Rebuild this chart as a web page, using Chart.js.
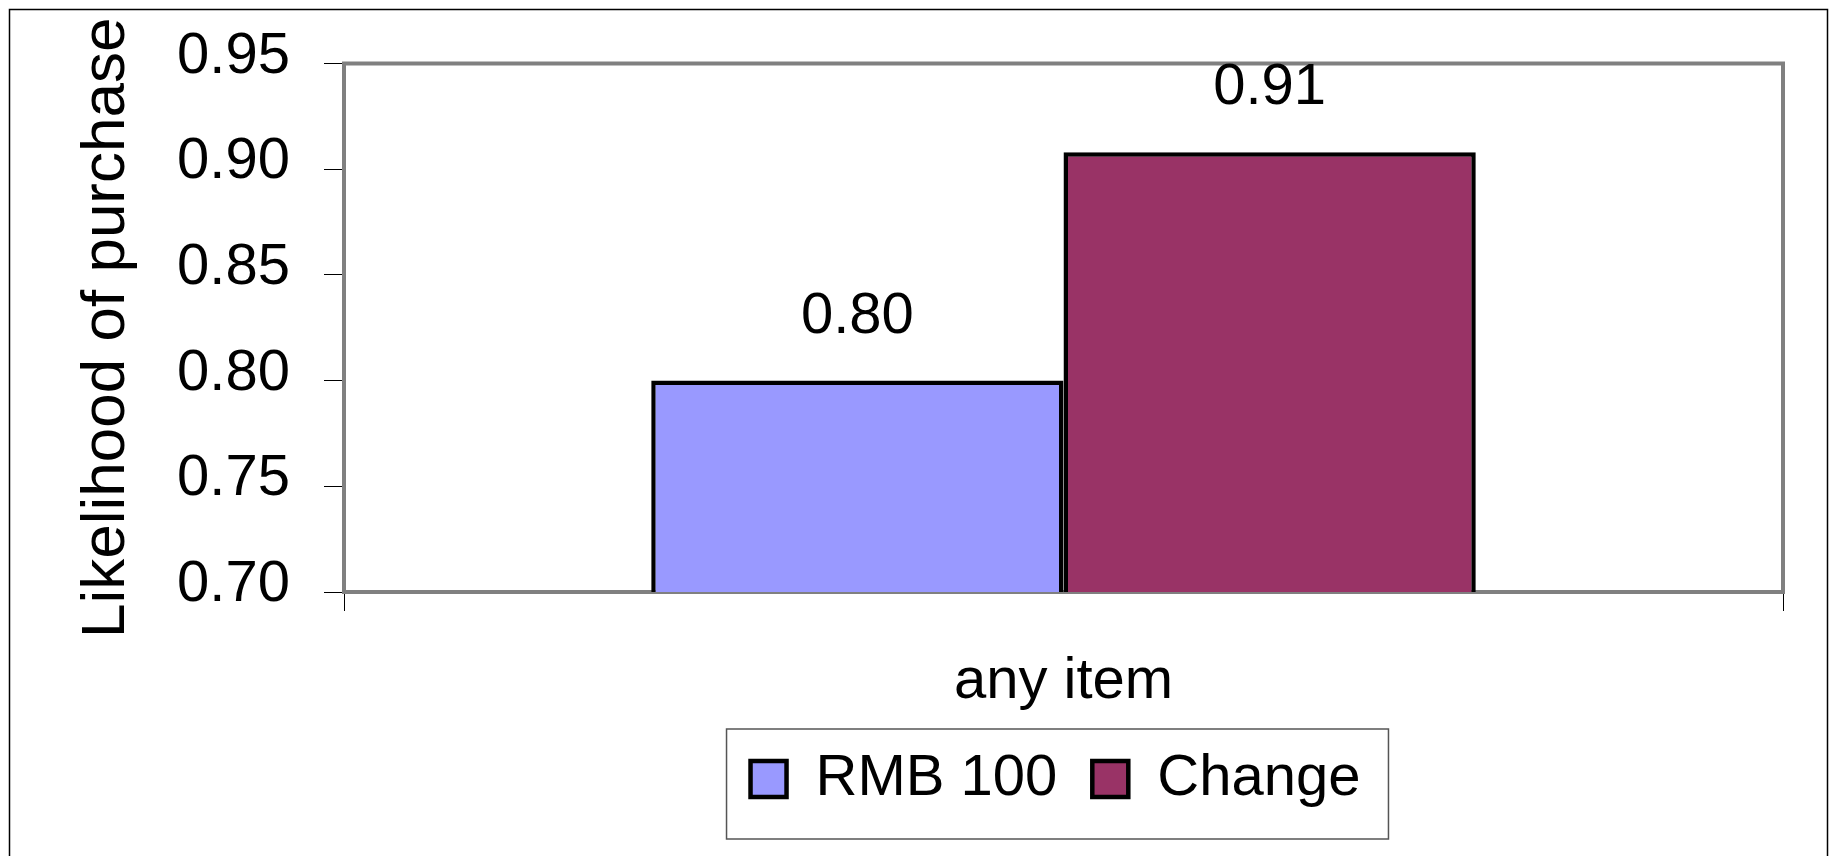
<!DOCTYPE html>
<html>
<head>
<meta charset="utf-8">
<script src="https://cdn.jsdelivr.net/npm/chart.js@4"></script>
<style>
  body { margin: 0; background: #fff; }
  #wrap { width: 1831px; height: 856px; }
</style>
</head>
<body>
<div id="wrap"><canvas id="bar-chart" width="1831" height="856"></canvas></div>
<script>
// data
var categories = ["any item"];
var seriesNames = ["RMB 100", "Change"];
var rmb100 = [0.80];
var change = [0.908];
var yTicks = [0.70, 0.75, 0.80, 0.85, 0.90, 0.95];

var FONT = "'Liberation Sans', Arial, sans-serif";

// grey frame round the plot area, outer border, legend box
var framePlugin = {
    id: 'frame',
    afterLayout: function (chart) {
        // centre the legend under the plot area, not the whole canvas
        var lg = chart.legend, a = chart.chartArea;
        var shift = (a.left + a.right) / 2 - 8 - (lg.left + lg.right) / 2;
        lg.left += shift;
        lg.right += shift;
    },
    beforeDatasetsDraw: function (chart) {
        var a = chart.chartArea, c = chart.ctx;
        c.save();
        c.strokeStyle = '#808080';
        c.lineWidth = 4;
        c.strokeRect(a.left, a.top, a.right - a.left, a.bottom - a.top);
        c.restore();
    },
    afterDraw: function (chart) {
        var c = chart.ctx, lg = chart.legend;
        var pad = lg.options.labels.padding;
        var rowW = lg.lineWidths[0];
        var x0 = (lg.left + pad + lg.right - rowW) / 2;
        var l = x0 - 24, r = x0 + rowW - pad + 28;
        var mid = lg.top + pad + 29;
        c.save();
        c.strokeStyle = '#000';
        c.lineWidth = 1.5;
        c.strokeRect(9.5, 9.5, 1818, 900);
        c.strokeStyle = '#555';
        c.strokeRect(l, mid - 50, r - l, 110);
        c.restore();
    }
};

// value labels above the bars
var labelPlugin = {
    id: 'valueLabels',
    afterDatasetsDraw: function (chart) {
        var c = chart.ctx;
        c.save();
        c.font = '58px ' + FONT;
        c.fillStyle = '#000';
        c.textAlign = 'center';
        c.textBaseline = 'alphabetic';
        chart.data.datasets.forEach(function (ds, i) {
            chart.getDatasetMeta(i).data.forEach(function (bar, j) {
                c.fillText(ds.data[j].toFixed(2), bar.x, bar.y - 48);
            });
        });
        c.restore();
    }
};

var ctx = document.getElementById("bar-chart");
var barChart = new Chart(ctx, {
    type: 'bar',
    data: {
        labels: categories,
        datasets: [{
            label: seriesNames[0],
            data: rmb100,
            backgroundColor: '#9999FF',
            borderColor: '#000',
            borderWidth: 4.5,
            borderSkipped: false
        }, {
            label: seriesNames[1],
            data: change,
            backgroundColor: '#993366',
            borderColor: '#000',
            borderWidth: 4.5,
            borderSkipped: false
        }]
    },
    options: {
        responsive: false,
        animation: false,
        categoryPercentage: 0.573,
        barPercentage: 1.0,
        layout: { padding: { left: 0, top: 63.5, right: 48, bottom: 38 } },
        plugins: {
            tooltip: { enabled: false },
            legend: {
                position: 'bottom',
                labels: {
                    color: '#000',
                    font: { family: FONT, size: 58 },
                    boxWidth: 36,
                    boxHeight: 36,
                    padding: 35
                }
            }
        },
        scales: {
            x: {
                grid: { offset: true, drawOnChartArea: false, drawTicks: true, tickLength: 19, color: '#000', lineWidth: 1 },
                border: { display: false },
                ticks: { color: '#000', font: { family: FONT, size: 58 }, padding: 36, maxRotation: 0 },
                afterFit: function (scale) { scale.height = 123; }
            },
            y: {
                min: yTicks[0],
                max: yTicks[yTicks.length - 1],
                afterBuildTicks: function (scale) {
                    scale.ticks = yTicks.map(function (v) { return { value: v }; });
                },
                grid: { drawOnChartArea: false, drawTicks: true, tickLength: 20, color: '#000', lineWidth: 1 },
                border: { display: false },
                ticks: {
                    color: '#000',
                    font: { family: FONT, size: 58 },
                    padding: 34,
                    labelOffset: -7,
                    callback: function (v) { return Number(v).toFixed(2); }
                },
                title: {
                    display: true,
                    text: 'Likelihood of purchase',
                    color: '#000',
                    font: { family: FONT, size: 62 },
                    padding: { top: 70, bottom: 0 }
                },
                afterFit: function (scale) {
                    scale.width = 344;
                    scale.paddingTop = 0;
                    scale.paddingBottom = 0;
                }
            }
        }
    },
    plugins: [framePlugin, labelPlugin]
});
</script>
</body>
</html>
